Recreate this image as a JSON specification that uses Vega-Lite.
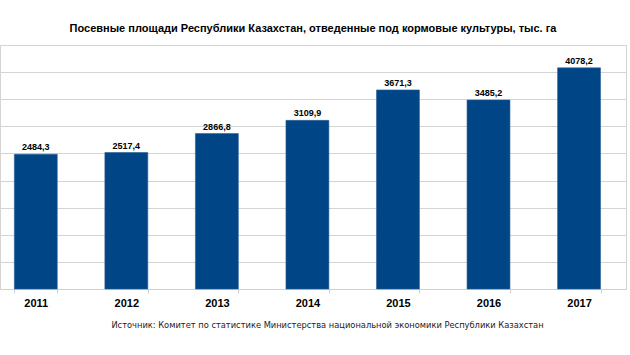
{
  "$schema": "https://vega.github.io/schema/vega-lite/v6.json",
  "width": 626,
  "height": 244,
  "autosize": {"type": "none"},
  "padding": {"left": 0, "top": 45, "right": 4, "bottom": 66},
  "background": "white",
  "config": {
    "locale": {"number": {"decimal": ",", "thousands": "", "grouping": [3], "currency": ["", ""]}},
    "view": {"stroke": "#d4d4d4", "strokeWidth": 1},
    "font": "Liberation Sans"
  },
  "title": {
    "text": "Посевные площади Республики Казахстан, отведенные под кормовые культуры, тыс. га",
    "font": "Liberation Sans",
    "fontSize": 11,
    "fontWeight": "bold",
    "color": "#000000",
    "anchor": "middle",
    "offset": 11
  },
  "data": {
    "values": [
      {"year": "2011", "value": 2484.3},
      {"year": "2012", "value": 2517.4},
      {"year": "2013", "value": 2866.8},
      {"year": "2014", "value": 3109.9},
      {"year": "2015", "value": 3671.3},
      {"year": "2016", "value": 3485.2},
      {"year": "2017", "value": 4078.2}
    ]
  },
  "encoding": {
    "x": {
      "field": "year",
      "type": "nominal",
      "sort": null,
      "scale": {"paddingInner": 0.526, "paddingOuter": 0.22, "align": 0.36},
      "axis": {
        "title": "Источник: Комитет по статистике Министерства национальной экономики Республики Казахстан",
        "titleFont": "DejaVu Sans",
        "titleFontSize": 8.3,
        "titleFontWeight": "normal",
        "titleColor": "#222222",
        "titlePadding": 12,
        "titleX": 327,
        "labelAngle": 0,
        "labelFont": "Liberation Sans",
        "labelFontSize": 11,
        "labelFontWeight": "bold",
        "labelColor": "#000000",
        "labelPadding": 4,
        "tickBand": "extent",
        "tickSize": 4,
        "tickColor": "#d0d0d0",
        "domainColor": "#d0d0d0"
      }
    },
    "y": {
      "field": "value",
      "type": "quantitative",
      "scale": {"domain": [0, 4500], "nice": false},
      "axis": {
        "title": null,
        "values": [0, 500, 1000, 1500, 2000, 2500, 3000, 3500, 4000, 4500],
        "labels": false,
        "ticks": false,
        "domain": false,
        "grid": true,
        "gridColor": "#d4d4d4"
      }
    }
  },
  "layer": [
    {"mark": {"type": "bar", "color": "#004586", "stroke": "#2a5f96", "strokeWidth": 0.6}},
    {
      "mark": {"type": "text", "dy": -7, "font": "Liberation Sans", "fontSize": 9, "fontWeight": "bold", "color": "#000000"},
      "encoding": {"text": {"field": "value", "type": "quantitative", "format": ".1f"}}
    }
  ]
}
